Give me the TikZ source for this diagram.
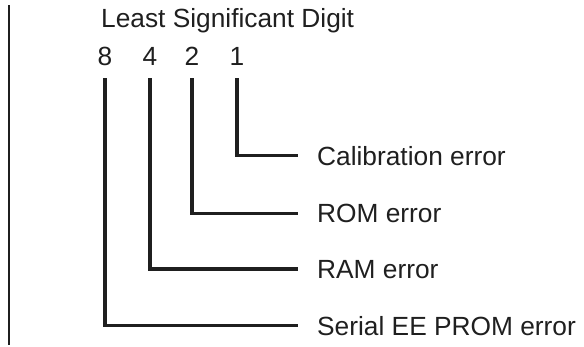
\documentclass[tikz,border=0pt]{standalone}
\usepackage{fontspec}
\setmainfont{Liberation Sans}
\usetikzlibrary{positioning}
\tikzstyle{digit} = [inner sep=0pt, anchor=base, text=black!88]
\tikzstyle{errLabel} = [inner sep=0pt, anchor=base west, text=black!88]
\tikzstyle{wire} = [line width=3.4pt, draw=black!88, shorten <=12.5pt, shorten >=19pt]

\begin{document}
\begin{tikzpicture}[x=1pt, y=-1pt, font=\fontsize{26.3}{31}\selectfont]
\useasboundingbox (0,0) rectangle (584,346);
% Draw bar
\draw [line width=2.6pt, black!88] (9,5) -- (9,345);
% Draw texts
\node (title) [errLabel] at (101,27) {Least Significant Digit};
\node (d8) [digit] at (105,65.5) {8};
\node (d4) [digit] at (150,65.5) {4};
\node (d2) [digit] at (192,65.5) {2};
\node (d1) [digit] at (237,65.5) {1};
\node (calib) [errLabel] at (317,165) {Calibration error};
\node (rom) [errLabel] at (317,222.5) {ROM error};
\node (ram) [errLabel] at (317,278) {RAM error};
\node (eeprom) [errLabel] at (317,335) {Serial EE PROM error};
% Draw lines
\draw [wire] (d1.south) |- (calib.west);
\draw [wire] (d2.south) |- (rom.west);
\draw [wire] (d4.south) |- (ram.west);
\draw [wire] (d8.south) |- (eeprom.west);
\end{tikzpicture}
\end{document}
